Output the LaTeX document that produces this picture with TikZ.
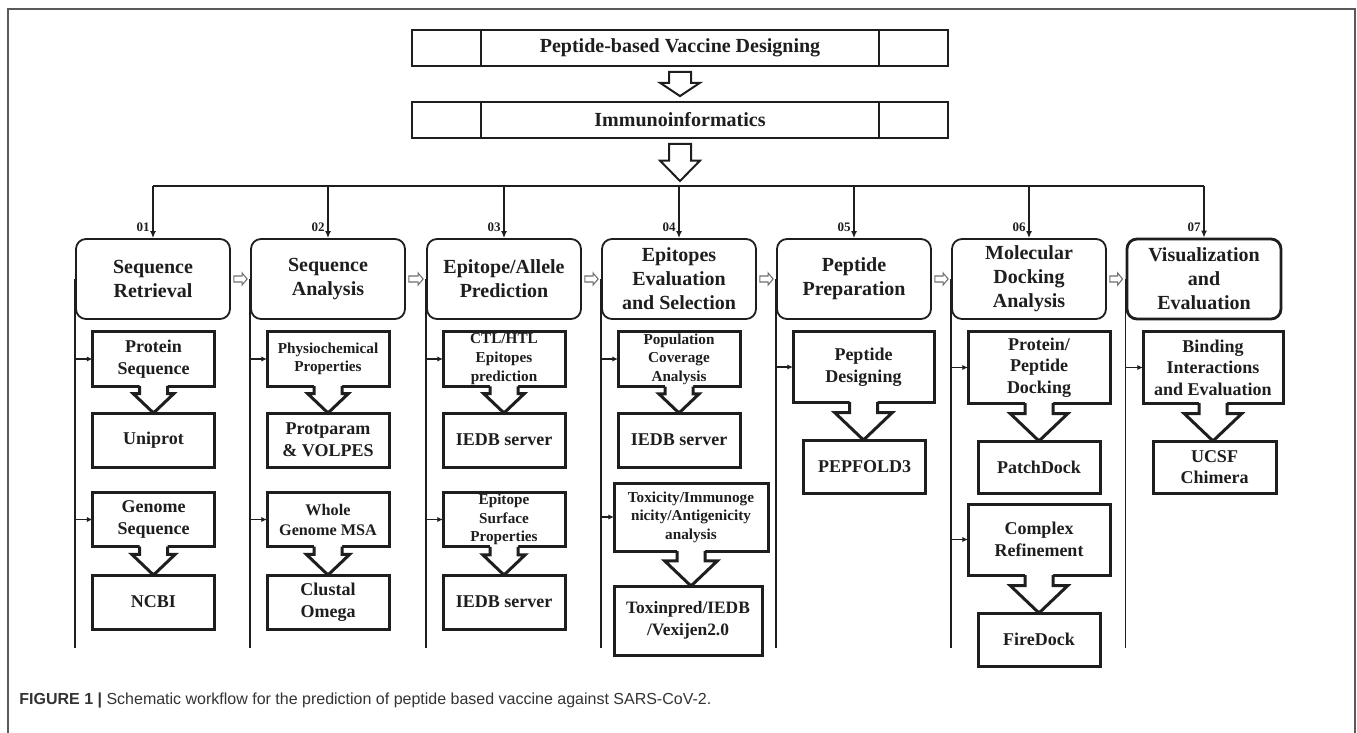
\documentclass[tikz,border=0pt]{standalone}
\usepackage{fontspec}
\setmainfont{Liberation Serif}
\newfontfamily\capfont{Liberation Sans}
\usetikzlibrary{arrows.meta,calc}
\definecolor{ink}{HTML}{1E1E1E}
\definecolor{frame}{HTML}{5A5A5A}
\definecolor{hollow}{HTML}{707070}
\definecolor{captext}{HTML}{333333}
\tikzset{
  every node/.style={font=\bfseries\fontsize{9}{10.8}\selectfont,text=ink,inner sep=1pt,align=center},
  headbox/.style={draw=ink,line width=.9pt,minimum width=268pt,minimum height=18pt,font=\bfseries\fontsize{10}{12}\selectfont},
  stage/.style={draw=ink,line width=.9pt,rounded corners=5pt,minimum width=77pt,minimum height=40pt,font=\bfseries\fontsize{10}{12}\selectfont},
  tool/.style={draw=ink,line width=1.5pt,outer sep=0pt,minimum width=61pt,minimum height=27pt},
  small/.style={font=\bfseries\fontsize{7.6}{9.3}\selectfont},
  num/.style={font=\bfseries\fontsize{6.5}{7}\selectfont,anchor=south east,inner sep=0pt},
  bus/.style={draw=ink,line width=.8pt},
  drop/.style={bus,-{Latex[length=3.5pt,width=3pt]}},
  feed/.style={bus,-{Latex[length=2.8pt,width=2.6pt]}},
  block/.style={draw=ink,line width=1.5pt,line join=miter},
  hollowhead/.style={draw=ink,line width=1pt,fill=white,line join=miter},
  nudge/.style={draw=hollow,line width=.55pt,fill=white},
  frame/.style={draw=frame,line width=.8pt},
}
% block arrow hanging from the bottom of one tool box onto the next
\newcommand{\blockarrow}[2]{%
  \fill[white] let \p1=(#1.south), \p2=(#2.north), \n1={0.72*(\y1-\y2)}, \n2={1.05*\n1} in
    ({\x1-7pt},{\y1+1pt}) -- ({\x1-7pt},{\y2+\n1*1pt}) -- ({\x1-\n2*1pt},{\y2+\n1*1pt}) -- (\x1,\y2)
    -- ({\x1+\n2*1pt},{\y2+\n1*1pt}) -- ({\x1+7pt},{\y2+\n1*1pt}) -- ({\x1+7pt},{\y1+1pt}) -- cycle;
  \draw[block] let \p1=(#1.south), \p2=(#2.north), \n1={0.72*(\y1-\y2)}, \n2={1.05*\n1} in
    ({\x1-7pt},\y1) -- ({\x1-7pt},{\y2+\n1*1pt}) -- ({\x1-\n2*1pt},{\y2+\n1*1pt}) -- (\x1,\y2)
    -- ({\x1+\n2*1pt},{\y2+\n1*1pt}) -- ({\x1+7pt},{\y2+\n1*1pt}) -- ({\x1+7pt},\y1);}
% free standing hollow arrow of the title stack
\newcommand{\hollowblock}[2]{%
  \draw[hollowhead] let \p1=#1, \p2=#2, \n1={0.55*(\y1-\y2-5pt)} in
    ({\x1-5.5pt},{\y1-2.5pt}) -- ({\x1-5.5pt},{\y2+2.5pt+\n1*1pt}) -- ({\x1-10pt},{\y2+2.5pt+\n1*1pt}) -- (\x1,{\y2+2.5pt})
    -- ({\x1+10pt},{\y2+2.5pt+\n1*1pt}) -- ({\x1+5.5pt},{\y2+2.5pt+\n1*1pt}) -- ({\x1+5.5pt},{\y1-2.5pt}) -- cycle;}
% little outlined arrow between two stages
\newcommand{\stepper}[2]{%
  \draw[nudge] let \p1=(#1.east), \p2=(#2.west) in
    ({\x1+1.5pt},{\y1+1.5pt}) -- ({\x2-4pt},{\y1+1.5pt}) -- ({\x2-4pt},{\y1+3pt}) -- ({\x2-1.5pt},\y1)
    -- ({\x2-4pt},{\y1-3pt}) -- ({\x2-4pt},{\y1-1.5pt}) -- ({\x1+1.5pt},{\y1-1.5pt}) -- cycle;}

\begin{document}
\begin{tikzpicture}[x=.5pt,y=-.5pt]
\useasboundingbox (0,0) rectangle (1357,733);
\fill[white] (0,0) rectangle (1357,733);
\draw[frame] (8,740) -- (8,9) -- (1355,9) -- (1355,740);
% title stack
\node[headbox] (h1) at (680,48) {Peptide-based Vaccine Designing};
\node[headbox] (h2) at (680,120) {Immunoinformatics};
\foreach \h in {h1,h2}{
  \draw[draw=ink,line width=.9pt] ([xshift=35pt]\h.north west) -- ([xshift=35pt]\h.south west);
  \draw[draw=ink,line width=.9pt] ([xshift=-35pt]\h.north east) -- ([xshift=-35pt]\h.south east);
}
\coordinate (rail) at (0,186);
\coordinate (floor) at (0,648);
\hollowblock{(h1.south)}{(h2.north)}
\hollowblock{(h2.south)}{(h2.south |- rail)}
% seven stages
\foreach \i/\x/\w/\t in {1/153/.9pt/{Sequence\\Retrieval},2/328/.9pt/{Sequence\\Analysis},
    3/504/.9pt/{Epitope/Allele\\Prediction},4/679/.9pt/{Epitopes\\Evaluation\\and Selection},
    5/854/.9pt/{Peptide\\Preparation},6/1029/.9pt/{Molecular\\Docking\\Analysis},
    7/1204/1.4pt/{Visualization\\and\\Evaluation}}{
  \node[stage,line width=\w] (s\i) at (\x,279) {\t};
  \draw[drop] (s\i.north |- rail) -- (s\i.north);
  \node[num] at ([xshift=-1.5pt,yshift=3pt]s\i.north) {0\i};
  \draw[bus] (s\i.west) -- (s\i.west |- floor);
}
\draw[bus] (s1.north |- rail) -- (s7.north |- rail);
\foreach \i [evaluate=\i as \j using int(\i+1)] in {1,...,6}{\stepper{s\i}{s\j}}
% 01
\node[tool] (a1) at (153.5,359) {Protein\\Sequence};
\node[tool] (b1) at (153.5,440) {Uniprot};
\node[tool] (c1) at (153.5,519.5) {Genome\\Sequence};
\node[tool] (d1) at (153.5,602) {NCBI};
% 02
\node[tool,small] (a2) at (328,359) {Physiochemical\\Properties};
\node[tool] (b2) at (328,440) {Protparam\\\& VOLPES};
\node[tool,font=\bfseries\fontsize{8.1}{10}\selectfont] (c2) at (328,519.5) {Whole\\Genome MSA};
\node[tool] (d2) at (328,602) {Clustal\\Omega};
% 03
\node[tool,small] (a3) at (504,359) {CTL/HTL\\Epitopes\\prediction};
\node[tool] (b3) at (504,440) {IEDB server};
\node[tool,small] (c3) at (504,519.5) {Epitope\\Surface\\Properties};
\node[tool] (d3) at (504,602) {IEDB server};
% 04
\node[tool,small] (a4) at (679,359) {Population\\Coverage\\Analysis};
\node[tool] (b4) at (679,440) {IEDB server};
\node[tool,small,minimum width=77pt,minimum height=34pt] (c4) at (691,517) {Toxicity/Immunoge\\nicity/Antigenicity\\analysis};
\node[tool,minimum width=74pt,minimum height=34.5pt,font=\bfseries\fontsize{8.7}{11}\selectfont] (d4) at (688,620.5) {Toxinpred/IEDB\\/Vexijen2.0};
% 05
\node[tool,minimum width=70.5pt,minimum height=35pt] (a5) at (863.5,367) {Peptide\\Designing};
\node[tool,minimum height=26.5pt] (b5) at (864.5,466.5) {PEPFOLD3};
% 06
\node[tool,minimum width=71pt,minimum height=35.5pt] (a6) at (1039,367.5) {Protein/\\Peptide\\Docking};
\node[tool,minimum height=26pt] (b6) at (1039,467) {PatchDock};
\node[tool,minimum width=71pt,minimum height=35.5pt] (c6) at (1039,539.5) {Complex\\Refinement};
\node[tool,minimum height=26.5pt] (d6) at (1039,639.5) {FireDock};
% 07
\node[tool,minimum width=70pt,minimum height=35.5pt] (a7) at (1213,367.5) {Binding\\Interactions\\and Evaluation};
\node[tool,minimum width=61.5pt,minimum height=26pt] (b7) at (1214.5,467) {UCSF\\Chimera};
% feeds off the stage rails
\foreach \s/\b in {1/a1,1/c1,2/a2,2/c2,3/a3,3/c3,4/a4,4/c4,5/a5,6/a6,6/c6,7/a7}{
  \draw[feed] (s\s.west |- \b.west) -- (\b.west);
}
\foreach \u/\v in {a1/b1,c1/d1,a2/b2,c2/d2,a3/b3,c3/d3,a4/b4,c4/d4,a5/b5,a6/b6,c6/d6,a7/b7}{
  \blockarrow{\u}{\v}
}
% caption
\node[anchor=west,align=left,text=captext,font=\capfont\fontsize{8}{10}\selectfont] (caption) at (17,700)
  {\textbf{FIGURE 1 |} Schematic workflow for the prediction of peptide based vaccine against SARS-CoV-2.};
\end{tikzpicture}
\end{document}
